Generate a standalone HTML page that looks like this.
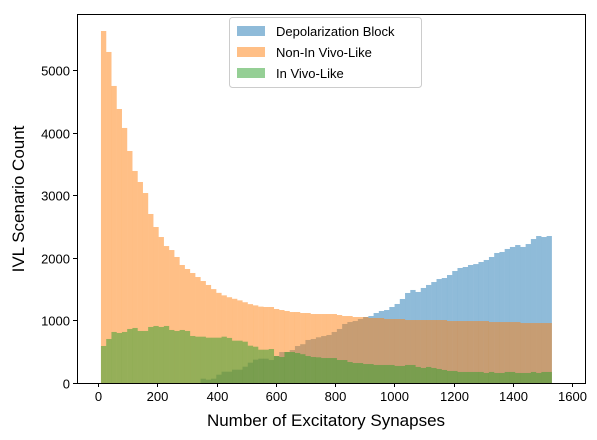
<!DOCTYPE html>
<html><head><meta charset="utf-8"><style>
body{margin:0;background:#fff;}
svg{display:block;font-family:"Liberation Sans",sans-serif;}
</style></head><body>
<svg id="chart" width="597" height="440">
<g id="bars"></g>
<rect x="77.5" y="14.5" width="508" height="369" fill="none" stroke="#000" stroke-width="1"/>
<g id="xticks"></g>
<g id="yticks"></g>
<text x="326" y="426" text-anchor="middle" font-size="17">Number of Excitatory Synapses</text>
<text transform="translate(24,199) rotate(-90)" text-anchor="middle" font-size="17">IVL Scenario Count</text>
<g>
<rect x="229.5" y="17.5" width="192" height="70" rx="3" fill="#fff" fill-opacity="0.8" stroke="#ccc"/>
<g><rect x="237" y="26" width="28" height="10" fill="#1f77b4" fill-opacity="0.5"/><text x="276" y="36" font-size="13">Depolarization Block</text></g>
<g><rect x="237" y="47" width="28" height="10" fill="#ff7f0e" fill-opacity="0.5"/><text x="276" y="57" font-size="13">Non-In Vivo-Like</text></g>
<g><rect x="237" y="68" width="28" height="10" fill="#2ca02c" fill-opacity="0.5"/><text x="276" y="78" font-size="13">In Vivo-Like</text></g>
</g>
</svg>
<script>
const binStart = 10;
const binEnd = 1532;
const depolBlock = [0,0,0,0,0,0,0,0,0,0,0,0,0,0,0,0,0,0,0,
69,53,69,133,181,181,213,213,261,325,373,389,389,
367,431,495,495,527,591,620,687,703,730,750,
767,815,863,943,974,990,1022,1054,1070,1118,1150,1166,1214,1262,1342,1438,1486,1454,1518,
1566,1613,1661,1677,1725,1789,1837,1853,1885,1900,1933,1965,2013,2077,2093,2141,2173,2204,2173,2220,2300,2348,2332,2348];
const nonInVivo = [5623,5288,4745,4377,4074,3706,3387,3211,3035,2700,2492,2332,2188,2124,2013,1885,1821,1757,
1693,1629,1566,1500,1440,1400,1370,1345,1320,1290,1260,1240,1220,1214,
1214,1182,1166,1150,1134,1134,1118,1118,1102,1102,1102,
1102,1102,1086,1070,1070,1054,1054,1054,1038,1038,1038,1022,1022,1022,1022,
1006,1006,1006,1006,1006,1006,1006,1006,990,990,990,990,990,990,990,990,974,974,974,974,974,974,958,958,958,958,958,958];
const inVivo = [591,703,815,799,815,863,879,831,831,895,911,895,911,847,831,847,831,751,
740,740,724,724,724,740,720,676,676,660,596,580,532,532,
543,431,415,495,495,479,460,431,415,410,399,
399,399,367,367,335,319,319,303,303,288,288,288,288,272,272,288,
288,256,240,256,240,224,208,192,192,176,176,176,176,176,160,176,160,160,176,176,160,160,160,176,160,176,176];
const xTicks = [0,200,400,600,800,1000,1200,1400,1600];
const yTicks = [0,1000,2000,3000,4000,5000];

const NS = "http://www.w3.org/2000/svg";
const xs = v => 98 + v * (474/1600);
const ys = v => 383 - v * (313/5000);
const nb = depolBlock.length;
const bw = (binEnd - binStart) / nb;
const barsG = document.getElementById('bars');
function drawSeries(vals, color, name) {
  vals.forEach((v, i) => {
    if (v <= 0) return;
    const r = document.createElementNS(NS, 'rect');
    const x0 = xs(binStart + i * bw), x1 = xs(binStart + (i + 1) * bw);
    r.setAttribute('x', x0);
    r.setAttribute('width', x1 - x0 + 0.05);
    r.setAttribute('y', ys(v));
    r.setAttribute('height', ys(0) - ys(v));
    r.setAttribute('fill', color);
    r.setAttribute('fill-opacity', '0.5');
    
    
    barsG.appendChild(r);
  });
}
drawSeries(depolBlock, '#1f77b4', 'depolarization-block');
drawSeries(nonInVivo, '#ff7f0e', 'non-in-vivo-like');
drawSeries(inVivo, '#2ca02c', 'in-vivo-like');

const xg = document.getElementById('xticks');
xTicks.forEach(t => {
  const x = Math.round(xs(t)) + 0.5;
  const l = document.createElementNS(NS, 'line');
  l.setAttribute('x1', x); l.setAttribute('x2', x); l.setAttribute('y1', 383); l.setAttribute('y2', 387);
  l.setAttribute('stroke', '#000');
  
  
  xg.appendChild(l);
  const tx = document.createElementNS(NS, 'text');
  tx.setAttribute('x', x); tx.setAttribute('y', 401); tx.setAttribute('text-anchor', 'middle'); tx.setAttribute('font-size', '13');
  tx.textContent = t;
  
  
  xg.appendChild(tx);
});
const yg = document.getElementById('yticks');
yTicks.forEach(t => {
  const y = Math.round(ys(t)) + 0.5;
  const l = document.createElementNS(NS, 'line');
  l.setAttribute('x1', 73); l.setAttribute('x2', 77); l.setAttribute('y1', y); l.setAttribute('y2', y);
  l.setAttribute('stroke', '#000');
  
  
  yg.appendChild(l);
  const tx = document.createElementNS(NS, 'text');
  tx.setAttribute('x', 70); tx.setAttribute('y', y + 5); tx.setAttribute('text-anchor', 'end'); tx.setAttribute('font-size', '13');
  tx.textContent = t;
  
  
  yg.appendChild(tx);
});
</script>
</body></html>
